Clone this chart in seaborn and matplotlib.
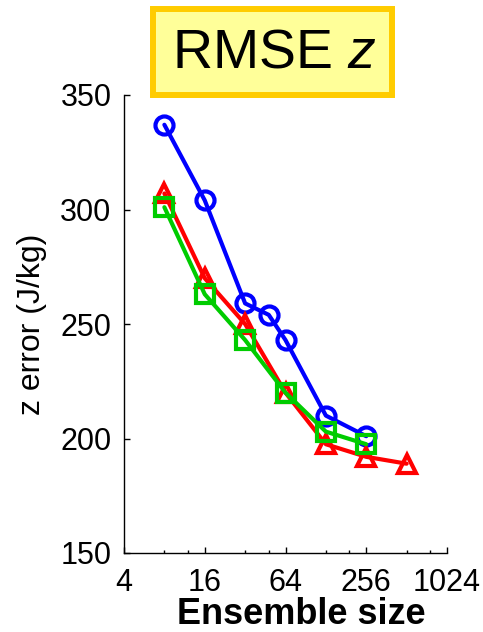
import matplotlib
matplotlib.use("Agg")
import matplotlib.pyplot as plt
from matplotlib.patches import Rectangle
import pandas as pd
import seaborn as sns

# values
blue_n = [8, 16, 32, 48, 64, 128, 256]
blue_err = [337, 304, 259, 254, 243, 210, 201]
red_n = [8, 16, 32, 64, 128, 256, 512]
red_err = [307, 270, 250, 220, 197.5, 192, 189]
green_n = [8, 16, 32, 64, 128, 256]
green_err = [301, 263, 243, 220, 203, 197.5]

x_ticks = [4, 16, 64, 256, 1024]
x_minor = [8, 12, 32, 48, 128, 192, 512, 768]
y_ticks = [150, 200, 250, 300, 350]

sns.set_style("ticks")
plt.rcParams["font.family"] = ["Liberation Sans", "DejaVu Sans"]
plt.rcParams["mathtext.fontset"] = "custom"
plt.rcParams["mathtext.rm"] = "Liberation Sans"
plt.rcParams["mathtext.it"] = "Liberation Sans:italic"
plt.rcParams["text.color"] = "black"
plt.rcParams["axes.labelcolor"] = "black"
plt.rcParams["xtick.color"] = "black"
plt.rcParams["ytick.color"] = "black"

fig = plt.figure(figsize=(4.83, 6.32), dpi=100)
ax = fig.add_axes([124 / 483, 1 - 553 / 632, 323 / 483, 458 / 632])

series = [
    (blue_n, blue_err, "#0000FF", "o"),
    (red_n, red_err, "#FF0000", "^"),
    (green_n, green_err, "#00CC00", "s"),
]
for n, err, col, mk in series:
    df = pd.DataFrame({"n": n, "err": err})
    sns.lineplot(data=df, x="n", y="err", ax=ax, color=col, marker=mk,
                 markersize=13, mfc="none", mec=col, mew=3, lw=3)

ax.set_xscale("log", base=2)
ax.set_xlim(4, 1024)
ax.set_ylim(150, 350)
ax.set_xticks(x_ticks)
ax.set_xticklabels([str(t) for t in x_ticks])
ax.set_xticks(x_minor, minor=True)
ax.set_xticklabels([], minor=True)
ax.set_yticks(y_ticks)
ax.set_yticklabels([str(t) for t in y_ticks])
ax.tick_params(axis="both", which="major", direction="in", length=4,
               width=1, labelsize=22)
ax.tick_params(axis="x", which="major", pad=11)
ax.tick_params(axis="y", which="major", pad=9)
ax.tick_params(axis="x", which="minor", direction="in", length=2.5, width=1)
sns.despine(ax=ax)
for s in ["left", "bottom"]:
    ax.spines[s].set_color("black")
    ax.spines[s].set_linewidth(1)

ax.set_ylabel("z error (J/kg)", fontsize=23)
ax.yaxis.set_label_coords(-0.238, 0.5)
ax.set_xlabel("Ensemble size", fontsize=26, fontweight="bold")
ax.xaxis.set_label_coords(0.55, -0.097)

# title box
fig.patches.append(Rectangle((153 / 483, 1 - 95 / 632), 239 / 483, 86 / 632,
                             transform=fig.transFigure, facecolor="#FFFF99",
                             edgecolor="#FFCC00", linewidth=4.3))
fig.text(274 / 483, 1 - 53 / 632, "RMSE $z$", fontsize=40,
         ha="center", va="center")

fig.savefig("out.png", dpi=100)
